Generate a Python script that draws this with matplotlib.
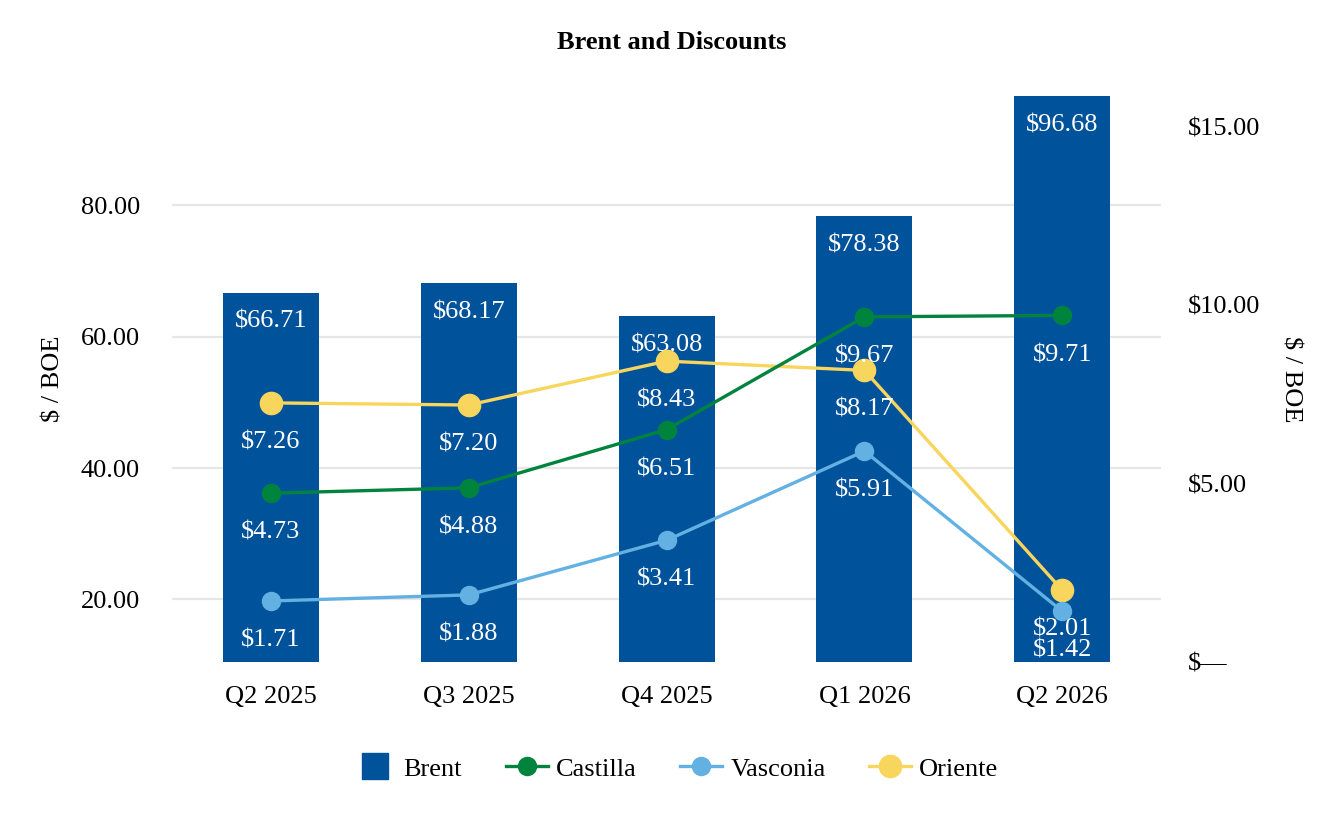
import matplotlib
matplotlib.use("Agg")
import matplotlib.pyplot as plt
from matplotlib.lines import Line2D

plt.rcParams['font.family'] = ['Liberation Serif', 'DejaVu Serif']

quarters = ["Q2 2025", "Q3 2025", "Q4 2025", "Q1 2026", "Q2 2026"]
brent = [66.71, 68.17, 63.08, 78.38, 96.68]
castilla = [4.73, 4.88, 6.51, 9.67, 9.71]
vasconia = [1.71, 1.88, 3.41, 5.91, 1.42]
oriente = [7.26, 7.20, 8.43, 8.17, 2.01]

left_ticks = [20, 40, 60, 80]
right_ticks = [0, 5, 10, 15]

BLUE = "#00529B"
GREEN = "#00843D"
LIGHT = "#63B1E2"
YELLOW = "#F8D55C"
FS = 19

fig = plt.figure(figsize=(13.44, 8.24), dpi=100)
ax = fig.add_axes([0.128, 0.1966, 0.736, 0.687])
x = list(range(len(quarters)))

ax.bar(x, brent, width=0.485, color=BLUE, zorder=2, label="Brent")
ax.set_ylim(10.45, 96.68)
ax.set_xlim(-0.5, 4.5)
ax.set_yticks(left_ticks)
ax.set_yticklabels([f"{t:.2f}" for t in left_ticks])
ax.set_xticks(x)
ax.set_xticklabels(quarters)
ax.grid(axis='y', color="#E6E6E6", linewidth=1.6, zorder=0)
ax.set_axisbelow(True)
ax.tick_params(length=0, labelsize=FS, pad=17)
ax.tick_params(axis='y', pad=23)
for s in ax.spines.values():
    s.set_visible(False)
ax.set_ylabel("$ / BOE", fontsize=FS, labelpad=12)

for xi, v in zip(x, brent):
    ax.annotate(f"${v:.2f}", (xi, v), xytext=(0, -21), textcoords="offset points",
                ha='center', va='center', color='white', fontsize=FS, zorder=5)

ax2 = ax.twinx()
ax2.set_ylim(0, 15.86)
ax2.set_yticks(right_ticks)
ax2.set_yticklabels(["$\u2014"] + [f"${t:.2f}" for t in right_ticks[1:]])
ax2.tick_params(length=0, labelsize=FS, pad=19)
for s in ax2.spines.values():
    s.set_visible(False)
ax2.set_ylabel("$ / BOE", fontsize=FS, rotation=270, labelpad=30)

l_or, = ax2.plot(x, oriente, color=YELLOW, lw=2.4, marker='o', ms=16, label="Oriente", zorder=3)
l_ca, = ax2.plot(x, castilla, color=GREEN, lw=2.4, marker='o', ms=13, label="Castilla", zorder=3)
l_va, = ax2.plot(x, vasconia, color=LIGHT, lw=2.4, marker='o', ms=13, label="Vasconia", zorder=3)

for series in (castilla, vasconia, oriente):
    for xi, v in zip(x, series):
        ax2.annotate(f"${v:.2f}", (xi, v), xytext=(0, -28.5), textcoords="offset points",
                     ha='center', va='center', color='white', fontsize=FS, zorder=6)

brent_handle = Line2D([], [], linestyle='none', marker='s', ms=19, color=BLUE)
fig.legend([brent_handle, l_ca, l_va, l_or], ["Brent", "Castilla", "Vasconia", "Oriente"],
           loc='center', bbox_to_anchor=(0.503, 0.067), ncol=4, frameon=False,
           fontsize=FS, handlelength=1.6, handletextpad=0.3, columnspacing=1.65)

fig.suptitle("Brent and Discounts", fontsize=FS, fontweight='bold', y=0.962)

fig.savefig("out.png", dpi=100)
